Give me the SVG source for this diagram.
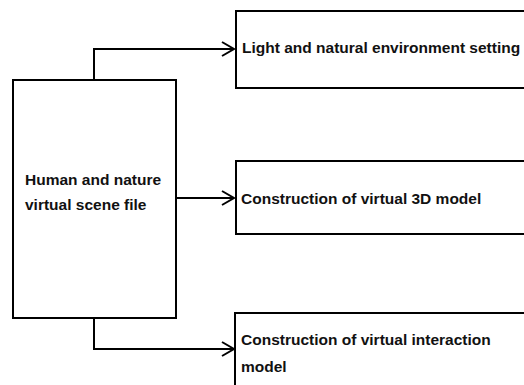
<svg xmlns="http://www.w3.org/2000/svg" width="524" height="385" viewBox="0 0 524 385">
<style>
.box{fill:#fff;stroke:#000;stroke-width:2}
.t{font-family:"Liberation Sans",Arial,sans-serif;font-weight:bold;font-size:15.5px;fill:#111}
.c{fill:none;stroke:#000;stroke-width:2}
</style>
<defs>
<marker id="arr" markerUnits="userSpaceOnUse" markerWidth="14" markerHeight="16" refX="12" refY="8" orient="auto" overflow="visible">
<path d="M0,1 L12,8 L0,15" fill="none" stroke="#000" stroke-width="2"/>
</marker>
</defs>
<rect width="524" height="385" fill="#fff"/>
<g id="connectors">
<path class="c" d="M94,80 V49 H234" marker-end="url(#arr)"/>
<path class="c" d="M176,198 H234" marker-end="url(#arr)"/>
<path class="c" d="M94,318 V349 H234" marker-end="url(#arr)"/>
</g>
<g id="source">
<rect class="box" x="13" y="80" width="163" height="238"/>
<text class="t" x="25" y="185">Human and nature</text>
<text class="t" x="25" y="210">virtual scene file</text>
</g>
<g id="light">
<rect class="box" x="236" y="11" width="300" height="77"/>
<text class="t" x="242" y="53">Light and natural environment setting</text>
</g>
<g id="model3d">
<rect class="box" x="236" y="161" width="300" height="73"/>
<text class="t" x="241" y="204">Construction of virtual 3D model</text>
</g>
<g id="interaction">
<rect class="box" x="235" y="313" width="300" height="100"/>
<text class="t" x="241" y="345">Construction of virtual interaction</text>
<text class="t" x="241" y="372">model</text>
</g>
</svg>
